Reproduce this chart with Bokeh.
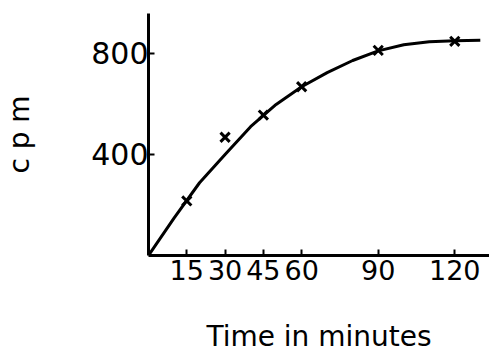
from bokeh.plotting import figure
from bokeh.models import FixedTicker, Range1d
from bokeh.embed import file_html
from bokeh.resources import INLINE

# data
time_min = [15, 30, 45, 60, 90, 120]
cpm = [216, 468, 556, 668, 812, 848]

curve_t = [0, 10, 20, 30, 40, 50, 60, 70, 80, 90, 100, 110, 120, 130]
curve_cpm = [0, 148, 288, 400, 510, 598, 668, 724, 772, 810, 834, 846, 850, 852]

x_ticks = [15, 30, 45, 60, 90, 120]
y_ticks = [400, 800]

p = figure(width=489, height=355, output_backend="svg", toolbar_location=None,
           x_range=Range1d(0, 133.6), y_range=Range1d(0, 958),
           min_border_left=148, min_border_right=0, min_border_top=13, min_border_bottom=100)
p.outline_line_color = None
p.grid.visible = False
p.background_fill_color = "white"

p.line(curve_t, curve_cpm, line_color="black", line_width=3)
p.scatter(time_min, cpm, marker="x", size=13, line_color="black", line_width=3)

FONT = "DejaVu Sans"
for ax in (p.xaxis[0], p.yaxis[0]):
    ax.axis_line_color = "black"
    ax.axis_line_width = 3
    ax.major_tick_in = 6
    ax.major_tick_out = 0
    ax.major_tick_line_width = 2
    ax.major_tick_line_color = "black"
    ax.minor_tick_line_color = None
    ax.major_label_text_font = FONT
    ax.major_label_text_color = "black"
    ax.axis_label_text_font = FONT
    ax.axis_label_text_font_style = "normal"
    ax.axis_label_text_color = "black"

p.xaxis.major_label_text_font_size = "27px"
p.yaxis.major_label_text_font_size = "30px"
p.xaxis.ticker = FixedTicker(ticks=x_ticks)
p.yaxis.ticker = FixedTicker(ticks=y_ticks)
p.xaxis.major_label_standoff = 4
p.yaxis.major_label_standoff = 0

p.xaxis.axis_label = "Time in minutes"
p.xaxis.axis_label_text_font_size = "28px"
p.xaxis.axis_label_standoff = 37

p.yaxis.axis_label = "c p m"
p.yaxis.axis_label_text_font_size = "28px"
p.yaxis.axis_label_standoff = 52

open("out.html", "w").write(file_html(p, INLINE))
